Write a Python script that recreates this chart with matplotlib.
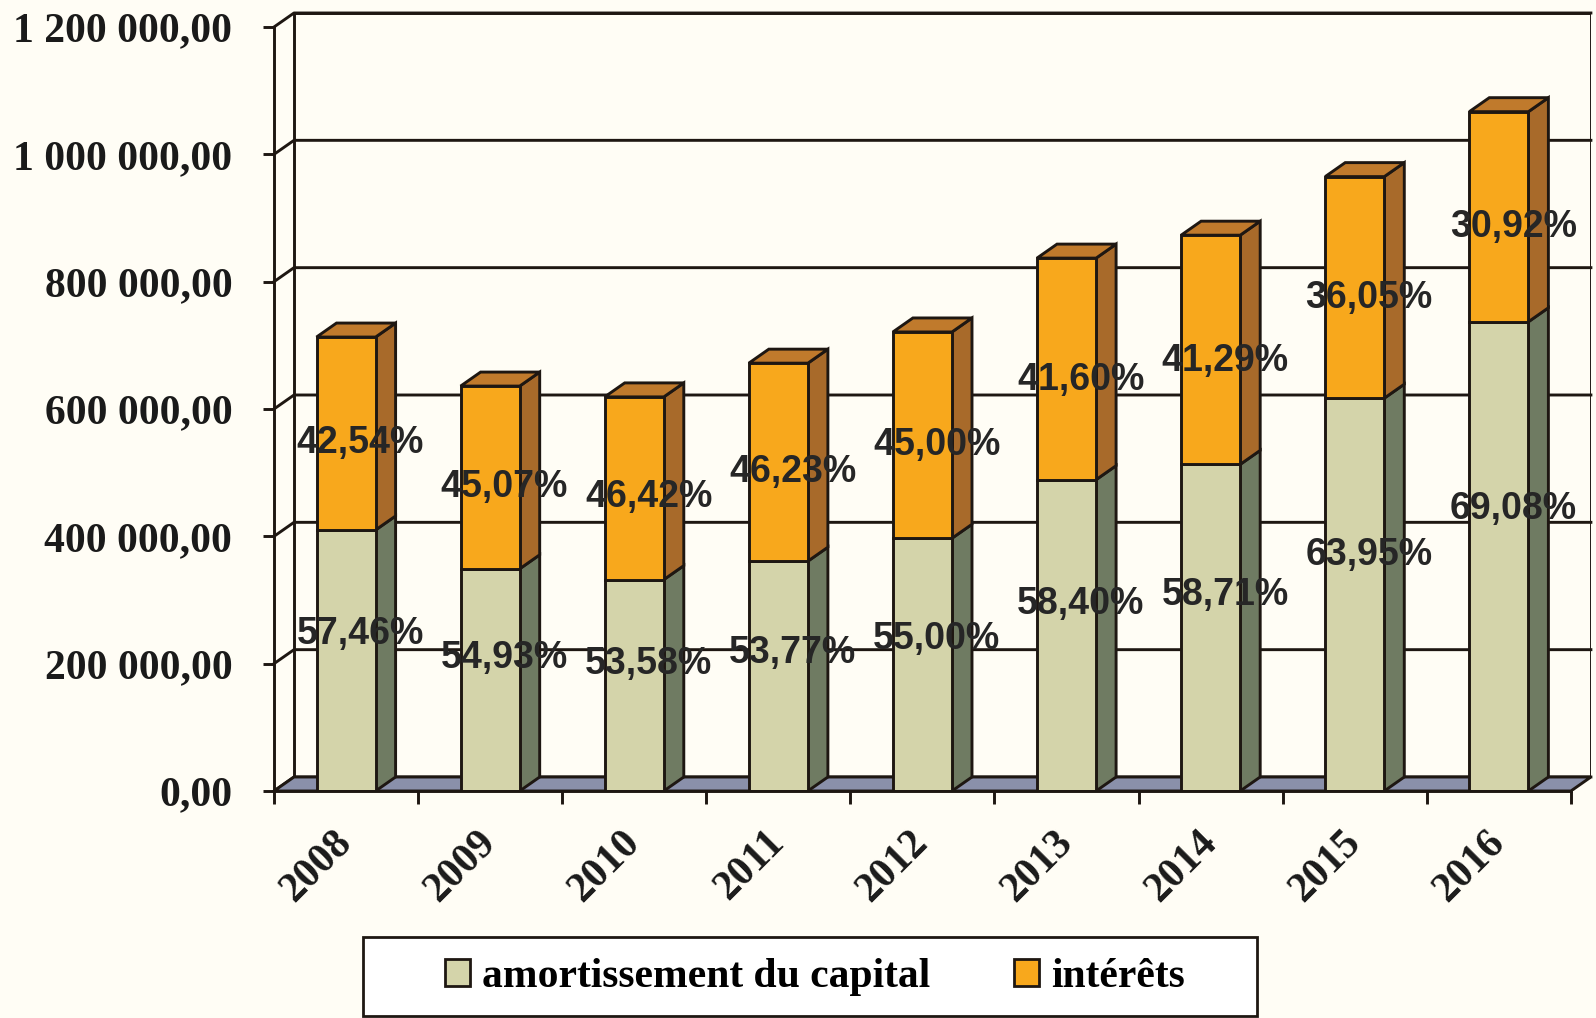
import numpy as np
import matplotlib
matplotlib.use("Agg")
import matplotlib.pyplot as plt
from matplotlib.patches import Polygon, Rectangle, Patch

# --- data ---
years = ["2008", "2009", "2010", "2011", "2012", "2013", "2014", "2015", "2016"]
amortissement = [410000, 349000, 332000, 361000, 397000, 489000, 513000, 617000, 737000]
interets = [303000, 287000, 287000, 311000, 324000, 348000, 360000, 348000, 330000]
pct_amort = ["57,46%", "54,93%", "53,58%", "53,77%", "55,00%", "58,40%", "58,71%", "63,95%", "69,08%"]
pct_int = ["42,54%", "45,07%", "46,42%", "46,23%", "45,00%", "41,60%", "41,29%", "36,05%", "30,92%"]
y_ticks = [0, 200000, 400000, 600000, 800000, 1000000, 1200000]

W, H = 1596, 1018
BG = "#fffdf5"
EDGE = "#1e1712"

# colours
green_front, green_side = "#d4d4aa", "#6f7b62"
orange_front, orange_side, orange_top = "#f8a81c", "#a86a2a", "#c07a2c"
floor_col = "#8a90aa"

# layout in pixels (front plane)
left_px, zero_px = 274, 791
cat_px = 144.1
ypx_per_unit = 764 / 1.2e6
DX = 20 / cat_px            # depth offset, x units
DY = 14 / ypx_per_unit      # depth offset, y units
bar_w = 0.41
n = len(years)
ymax = 1.2e6

fig = plt.figure(figsize=(W / 100, H / 100), dpi=100, facecolor=BG)
right_px = left_px + (n + DX) * cat_px
top_px = zero_px - (ymax + DY) * ypx_per_unit
ax = fig.add_axes([left_px / W, (H - zero_px) / H, (right_px - left_px) / W, (zero_px - top_px) / H])
ax.set_xlim(0, n + DX)
ax.set_ylim(0, ymax + DY)
ax.patch.set_visible(False)
for s in ["top", "right"]:
    ax.spines[s].set_visible(False)

lw = 2.1

# back wall, side wall and gridlines
ax.plot([DX, DX, n + DX, n + DX], [DY, ymax + DY, ymax + DY, DY], color=EDGE, lw=lw, zorder=1)
for v in y_ticks:
    ax.plot([0, DX, n + DX], [v, v + DY, v + DY], color=EDGE, lw=lw, zorder=1, clip_on=False)

# floor
ax.add_patch(Polygon([(0, 0), (n, 0), (n + DX, DY), (DX, DY)], closed=True,
                     facecolor=floor_col, edgecolor=EDGE, lw=lw, zorder=1.5))

# bars
for i in range(n):
    x0 = i + 0.5 - bar_w / 2
    x1 = x0 + bar_w
    a, b = amortissement[i], interets[i]
    t = a + b
    segs = [(0, a, green_front, green_side), (a, t, orange_front, orange_side)]
    for y0, y1, fc, sc in segs:
        ax.add_patch(Rectangle((x0, y0), bar_w, y1 - y0, facecolor=fc, edgecolor=EDGE, lw=lw, zorder=3))
        ax.add_patch(Polygon([(x1, y0), (x1 + DX, y0 + DY), (x1 + DX, y1 + DY), (x1, y1)], closed=True,
                             facecolor=sc, edgecolor=EDGE, lw=lw, zorder=2.5))
    ax.add_patch(Polygon([(x0, t), (x1, t), (x1 + DX, t + DY), (x0 + DX, t + DY)], closed=True,
                         facecolor=orange_top, edgecolor=EDGE, lw=lw, zorder=2.5, clip_on=False))

    # percentage labels
    lx = i + 0.5 + 0.1
    ax.text(lx, a * 0.6, pct_amort[i], ha="center", va="center", fontsize=27,
            fontweight="bold", family="Liberation Sans", color="#262626", zorder=5)
    ax.text(lx, a + b * 0.45, pct_int[i], ha="center", va="center", fontsize=27,
            fontweight="bold", family="Liberation Sans", color="#262626", zorder=5)

# axes / ticks
ax.spines["left"].set_bounds(0, ymax)
ax.spines["bottom"].set_bounds(0, n)
for s in ["left", "bottom"]:
    ax.spines[s].set_linewidth(lw)
    ax.spines[s].set_color(EDGE)
    ax.spines[s].set_zorder(4)

ax.set_yticks(y_ticks)
ax.set_yticklabels([f"{v:,.2f}".replace(",", " ").replace(".", ",") for v in y_ticks],
                   fontsize=30, fontweight="bold", family="Liberation Serif", color="#1a1a1a")
ax.tick_params(axis="y", direction="out", length=8, width=lw, color=EDGE, pad=22)

ax.set_xticks(np.arange(n + 1))
ax.set_xticklabels([])
ax.tick_params(axis="x", which="major", direction="out", length=9, width=lw, color=EDGE)
ax.set_xticks(np.arange(n) + 0.5, minor=True)
ax.set_xticklabels(years, minor=True, rotation=45, ha="right", va="center", rotation_mode="anchor",
                   fontsize=30, fontweight="bold", family="Liberation Serif", color="#1a1a1a")
ax.tick_params(axis="x", which="minor", length=0, pad=33)

# legend
fig.patches.append(Rectangle((363 / W, 1 - 1016 / H), (1257 - 363) / W, (1016 - 937) / H,
                             transform=fig.transFigure, facecolor="white", edgecolor=EDGE, lw=2))
handles = [Patch(facecolor=green_front, edgecolor=EDGE, lw=2, label="amortissement du capital"),
           Patch(facecolor=orange_front, edgecolor=EDGE, lw=2, label="intérêts")]
fig.legend(handles=handles, loc="center", bbox_to_anchor=(815 / W, 1 - 977 / H), ncol=2, frameon=False,
           prop={"family": "Liberation Serif", "weight": "bold", "size": 30},
           handlelength=0.6, handleheight=0.6, handletextpad=0.3, columnspacing=2.0)

fig.savefig("out.png", dpi=100, facecolor=BG)
